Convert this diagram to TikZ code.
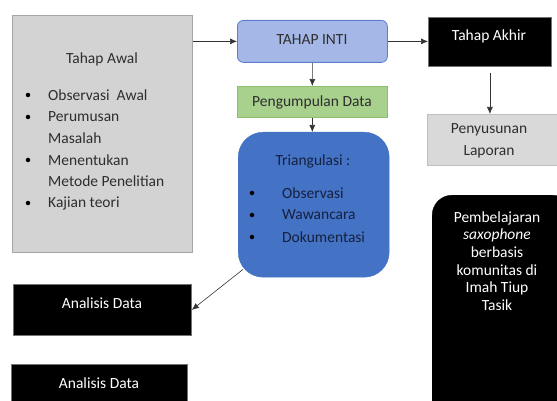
\documentclass[tikz,border=0pt]{standalone}
\usepackage{fontspec}
\setmainfont{Carlito}
\usetikzlibrary{arrows.meta}
\definecolor{awalfill}{HTML}{D3D3D3}
\definecolor{awaldraw}{HTML}{A6A6A6}
\definecolor{intifill}{HTML}{A4B7E6}
\definecolor{intidraw}{HTML}{5B7FCC}
\definecolor{greenfill}{HTML}{A9D18E}
\definecolor{greendraw}{HTML}{8CC06C}
\definecolor{trifill}{HTML}{4472C4}
\definecolor{tritext}{HTML}{15213F}
\definecolor{lapfill}{HTML}{D9D9D9}
\definecolor{lapdraw}{HTML}{BFBFBF}
\definecolor{txtgray}{HTML}{2E2E2E}
\tikzset{
  boxbase/.style={inner sep=0pt, anchor=north west},
  txt/.style={font=\fontsize{15.5}{18}\selectfont, inner sep=0pt},
  arr/.style={-{Latex[length=7pt,width=6pt]}, line width=0.6pt, draw=black!80},
  blk/.style={boxbase, fill=black, draw=black!55, line width=0.8pt},
}
\begin{document}
\begin{tikzpicture}[x=1pt,y=-1pt]
\useasboundingbox (0,0) rectangle (557,401);
\clip (0,0) rectangle (557,401);
% Tahap Awal
\node[boxbase, fill=awalfill, draw=awaldraw, line width=0.8pt, minimum width=180pt, minimum height=237pt] (awal) at (12,15) {};
\node[txt, text=txtgray] (awalt) at (102,59) {Tahap Awal};
\node[txt, text=txtgray, anchor=west] (a1) at (48,95) {Observasi\ \ Awal};
\node[txt, text=txtgray, anchor=west] (a2) at (48,117) {Perumusan};
\node[txt, text=txtgray, anchor=west] (a3) at (48,138) {Masalah};
\node[txt, text=txtgray, anchor=west] (a4) at (48,160) {Menentukan};
\node[txt, text=txtgray, anchor=west] (a5) at (48,181) {Metode Penelitian};
\node[txt, text=txtgray, anchor=west] (a6) at (48,203) {Kajian teori};
\foreach \yy/\nm in {95/b1,117/b2,160/b3,203/b4}
  \node[circle, fill=black, inner sep=0pt, minimum size=4.5pt] (\nm) at (28,\yy) {};
% Tahap Inti
\node[boxbase, fill=intifill, draw=intidraw, line width=0.8pt, rounded corners=6pt, minimum width=150pt, minimum height=42pt] (inti) at (237,20) {};
\node[txt, text=txtgray] (intit) at (312,40) {TAHAP INTI};
% Pengumpulan
\node[boxbase, fill=greenfill, draw=greendraw, line width=0.6pt, minimum width=150pt, minimum height=31pt] (peng) at (237,86) {};
\node[txt, text=txtgray] (pengt) at (312,102) {Pengumpulan Data};
% Triangulasi
\node[boxbase, fill=trifill, draw=trifill, rounded corners=25pt, minimum width=151pt, minimum height=145pt] (tri) at (238,132) {};
\node[txt, text=tritext] (trit) at (313,161) {Triangulasi :};
\node[txt, text=tritext, anchor=west] (t1) at (282,193) {Observasi};
\node[txt, text=tritext, anchor=west] (t2) at (282,215) {Wawancara};
\node[txt, text=tritext, anchor=west] (t3) at (282,237) {Dokumentasi};
\foreach \yy/\nm in {193/c1,215/c2,237/c3}
  \node[circle, fill=black, inner sep=0pt, minimum size=4.5pt] (\nm) at (252,\yy) {};
% Tahap Akhir
\node[blk, minimum width=123pt, minimum height=49pt] (akhir) at (428,17) {};
\node[txt, text=white] (akhirt) at (489,36) {Tahap Akhir};
% Penyusunan Laporan
\node[boxbase, fill=lapfill, draw=lapdraw, line width=0.6pt, minimum width=132pt, minimum height=51pt] (lap) at (427,114) {};
\node[txt, text=txtgray, align=center, font=\fontsize{15.5}{22}\selectfont] (lapt) at (489,141) {Penyusunan\\Laporan};
% Pembelajaran
\node[boxbase, fill=black, draw=black, rounded corners=20pt, minimum width=140pt, minimum height=230pt] (pemb) at (432,195) {};
\node[txt, text=white, align=center, font=\fontsize{15.5}{17.6}\selectfont] (pembt) at (497,261) {Pembelajaran\\\textit{saxophone}\\berbasis\\komunitas di\\Imah Tiup\\Tasik};
% Analisis Data 1
\node[blk, minimum width=178pt, minimum height=51pt] (an1) at (13,284) {};
\node[txt, text=white] (an1t) at (102,303) {Analisis Data};
% Analisis Data 2
\node[blk, minimum width=176pt, minimum height=50pt] (an2) at (11,364) {};
\node[txt, text=white] (an2t) at (99,383) {Analisis Data};
% Connectors
\draw[arr] (awal.east |- inti.west) -- (inti.west);
\draw[arr] (inti.east) -- (akhir.west |- inti.east);
\draw[arr] (inti.south) -- (peng.north);
\draw[arr] (peng.south) -- (tri.north -| peng.south);
\draw[arr, shorten <=6pt] (akhir.south) -- (lap.north -| akhir.south);
\draw[arr] ([shift={(5,-8)}]tri.south west) -- (an1.east);
\end{tikzpicture}
\end{document}
